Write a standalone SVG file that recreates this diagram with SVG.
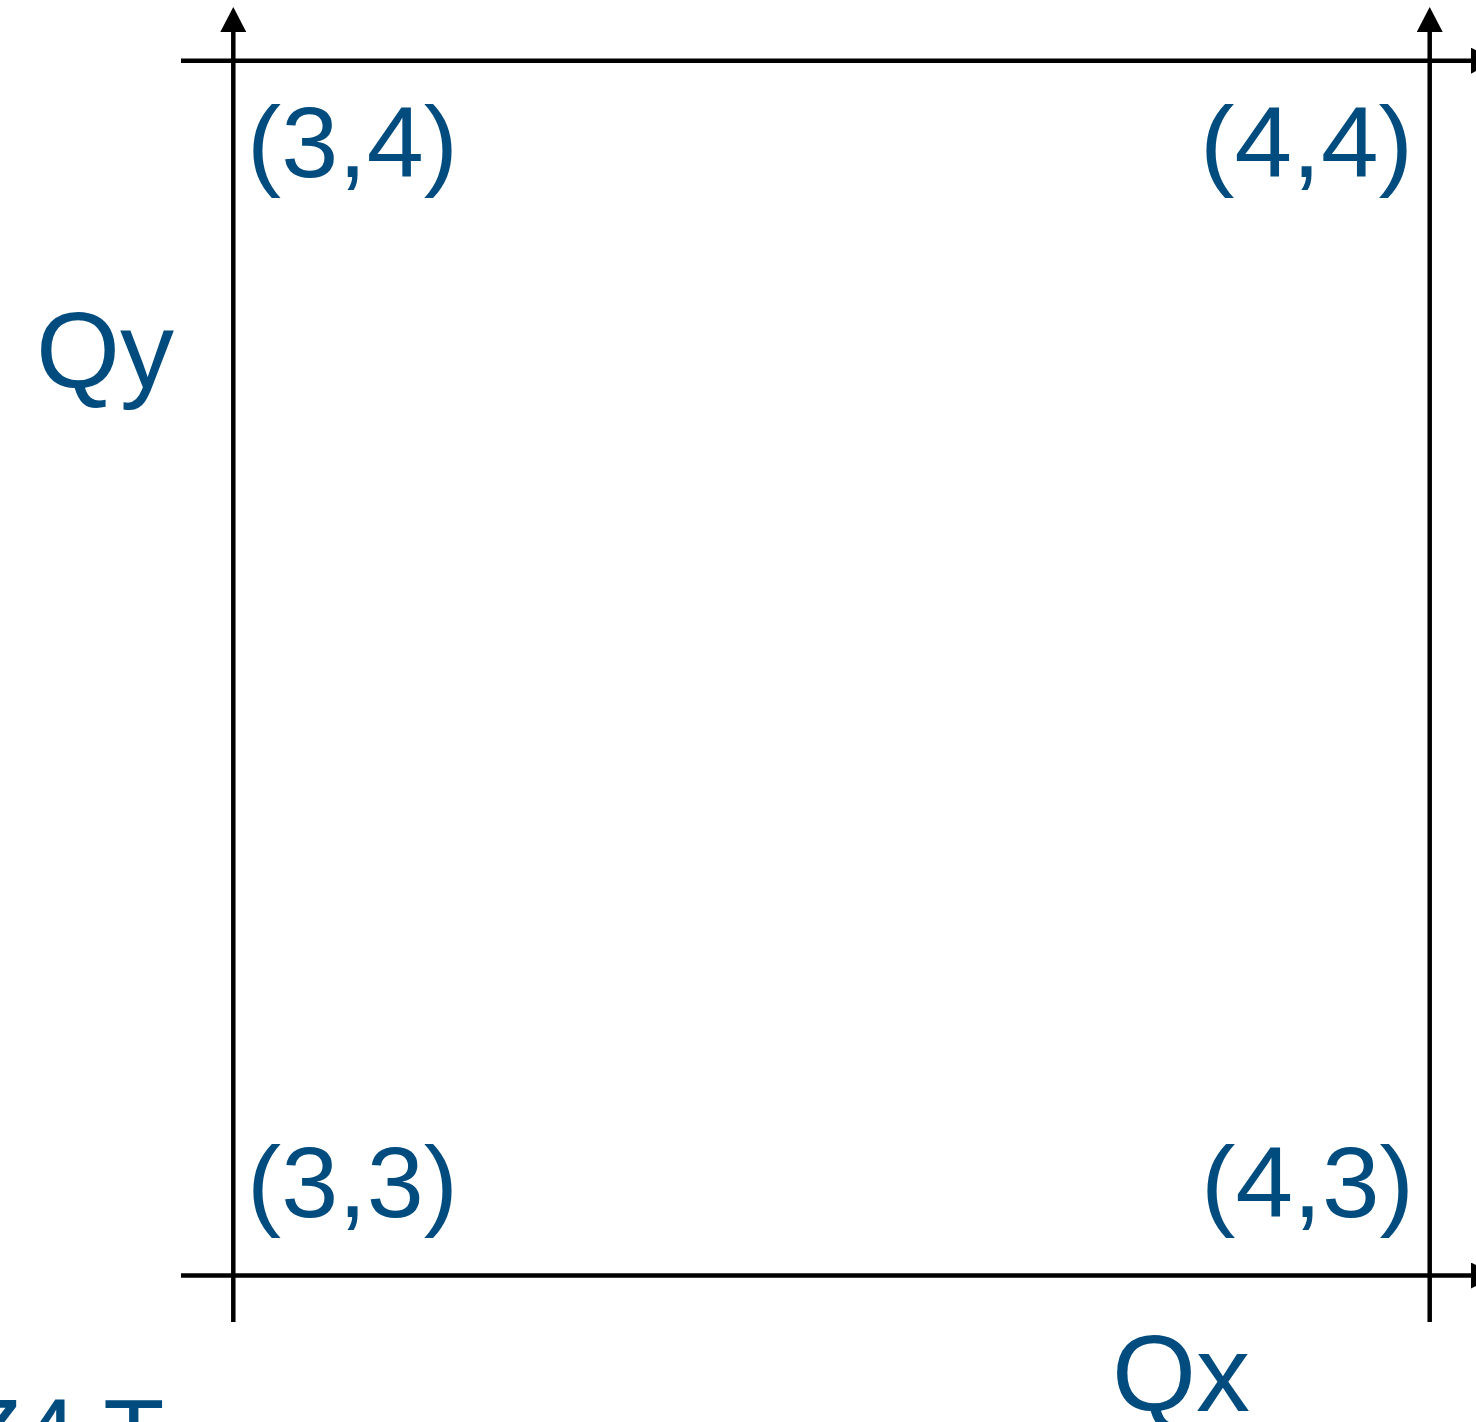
<svg xmlns="http://www.w3.org/2000/svg" width="1476" height="1422" viewBox="0 0 1476 1422">
  <style>
    .ax { stroke: #000; stroke-width: 4.5; fill: none; }
    .lbl { font-family: "Liberation Sans", Arial, sans-serif; fill: #004c7f; }
    .pt { font-size: 101px; }
    .big { font-size: 108px; }
    .cut { font-size: 100px; }
  </style>
  <defs>
    <marker id="arr" markerUnits="userSpaceOnUse" markerWidth="26" markerHeight="26" viewBox="0 0 26 26" refX="0" refY="13" orient="auto">
      <path d="M0,0 L25,13 L0,26 Z" fill="#000"/>
    </marker>
  </defs>
  <rect width="1476" height="1422" fill="#fff"/>
  <g id="connectors">
    <line class="ax" x1="233.3" y1="1322" x2="233.3" y2="32" marker-end="url(#arr)"/>
    <line class="ax" x1="1429.7" y1="1322" x2="1429.7" y2="32" marker-end="url(#arr)"/>
    <line class="ax" x1="181" y1="60.7" x2="1471" y2="60.7" marker-end="url(#arr)"/>
    <line class="ax" x1="181" y1="1275.5" x2="1471" y2="1275.5" marker-end="url(#arr)"/>
  </g>
  <g id="p34"><text class="lbl pt" x="247" y="177" textLength="211" lengthAdjust="spacingAndGlyphs">(3,4)</text></g>
  <g id="p44"><text class="lbl pt" x="1200" y="177" textLength="213" lengthAdjust="spacingAndGlyphs">(4,4)</text></g>
  <g id="p33"><text class="lbl pt" x="247" y="1217" textLength="211" lengthAdjust="spacingAndGlyphs">(3,3)</text></g>
  <g id="p43"><text class="lbl pt" x="1201" y="1217" textLength="213" lengthAdjust="spacingAndGlyphs">(4,3)</text></g>
  <g id="qy"><text class="lbl big" x="36" y="388">Qy</text></g>
  <g id="qx"><text class="lbl big" x="1112" y="1411">Qx</text></g>
  <g id="cut"><text class="lbl cut" x="-39.5" y="1469">Z4 T</text></g>
</svg>
